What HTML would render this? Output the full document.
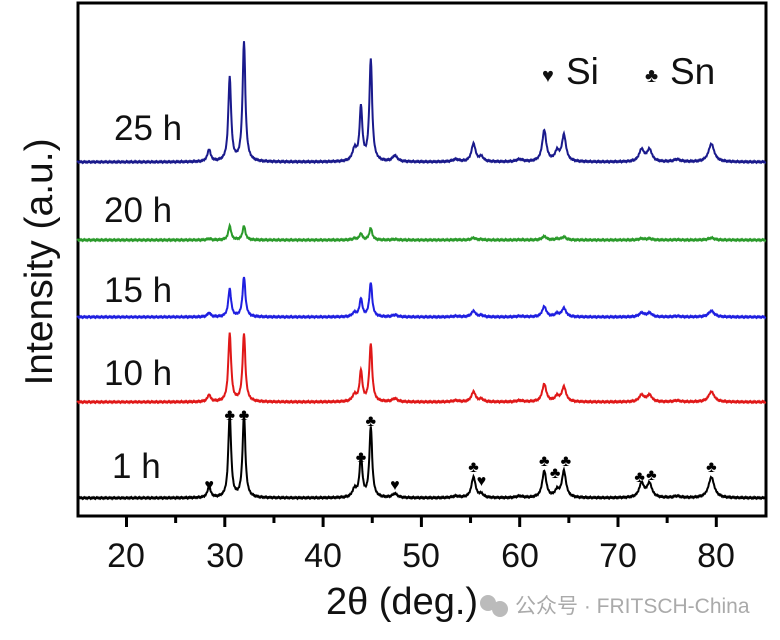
<!DOCTYPE html>
<html><head><meta charset="utf-8"><style>
html,body{margin:0;padding:0;background:#fff;}
svg{display:block;font-family:"Liberation Sans",Arial,sans-serif;}
</style></head><body>
<svg id="s" width="780" height="640" viewBox="0 0 780 640">
<rect x="78" y="3" width="688" height="513" fill="none" stroke="#000" stroke-width="3"/>
<g id="ticks" stroke="#000" stroke-width="3"></g>
<g font-size="34" fill="#111" text-anchor="middle">
<text x="126" y="567">20</text><text x="225" y="567">30</text><text x="323" y="567">40</text>
<text x="421" y="567">50</text><text x="520" y="567">60</text><text x="618" y="567">70</text><text x="716" y="567">80</text>
</g>
<text x="402" y="614" font-size="38" text-anchor="middle" fill="#111">2θ (deg.)</text>
<text transform="translate(52,262) rotate(-90)" font-size="39" text-anchor="middle" fill="#111">Intensity (a.u.)</text>
<g font-size="35" fill="#111">
<text x="114" y="140">25 h</text><text x="104" y="222">20 h</text><text x="104" y="302">15 h</text>
<text x="104" y="385">10 h</text><text x="112" y="478">1 h</text>
<text x="542" y="82" font-size="20">♥</text><text x="566" y="84" font-size="37">Si</text>
<text x="645" y="82" font-size="20">♣</text><text x="670" y="84" font-size="37">Sn</text>
</g>
<g id="series" fill="none" stroke-width="2"></g>
<g id="marks" font-size="16" fill="#000" text-anchor="middle"></g>
<text x="515" y="613" font-size="21" fill="#aaa" font-family="'Liberation Sans','Noto Sans CJK SC',sans-serif">公众号 · FRITSCH-China</text>
<circle cx="488" cy="603" r="8" fill="#bbb"/><circle cx="500" cy="609" r="8" fill="#bbb"/>
</svg>
<script>
const X=t=>126.5+(t-20)*9.83;
let tk='';
for(let t=20;t<=80;t+=5){tk+=`<line x1="${X(t)}" y1="516" x2="${X(t)}" y2="${t%10==0?527:523}"/>`;}
document.getElementById('ticks').innerHTML=tk;
const P=[[28.4,.1,.2],[30.5,1,.17],[31.95,1,.17],[43.2,.1,.25],[43.85,.45,.17],[44.85,.85,.17],[47.3,.05,.3],[55.3,.15,.25],[56.1,.04,.25],[62.5,.26,.25],[63.8,.08,.25],[64.5,.22,.25],[72.4,.1,.3],[73.2,.1,.3],[79.5,.15,.35],[53.5,.02,.4],[60,.02,.4],[76,.02,.4]];
const S=[
 {c:'#1a1a8c',b:162,a:120,sc:{30.5:0.7,31.95:1}},
 {c:'#2a9a2a',b:240,a:14,sc:{}},
 {c:'#1f1fe0',b:317,a:40,sc:{30.5:0.7}},
 {c:'#e01818',b:402,a:68,sc:{}},
 {c:'#000',b:498,a:83,sc:{44.85:.85,43.85:.5,62.5:.32,64.5:.32,79.5:.25,55.3:.25,72.4:.17,73.2:.17,28.4:.13}}
];
let h='';
S.forEach((s,k)=>{let d='';for(let t=15;t<=85;t+=0.05){let y=0;P.forEach(p=>{let amp=(s.sc[p[0]]!==undefined?s.sc[p[0]]:p[1]);y+=amp/(1+((t-p[0])/p[2])**2);});
 let yy=s.b-y*s.a+Math.sin(t*37)*0.6;d+=(d?'L':'M')+X(t).toFixed(1)+','+yy.toFixed(1);}
 h+=`<path d="${d}" stroke="${s.c}"/>`;});
document.getElementById('series').innerHTML=h;
const M=[[28.4,'♥',490],[30.5,'♣',420],[31.95,'♣',420],[43.85,'♣',462],[44.85,'♣',426],[47.3,'♥',490],[55.3,'♣',472],[56.1,'♥',486],[62.5,'♣',466],[63.6,'♣',478],[64.7,'♣',466],[72.2,'♣',482],[73.4,'♣',480],[79.5,'♣',472]];
document.getElementById('marks').innerHTML=M.map(m=>`<text x="${X(m[0])}" y="${m[2]}">${m[1]}</text>`).join('');
</script>
</body></html>
